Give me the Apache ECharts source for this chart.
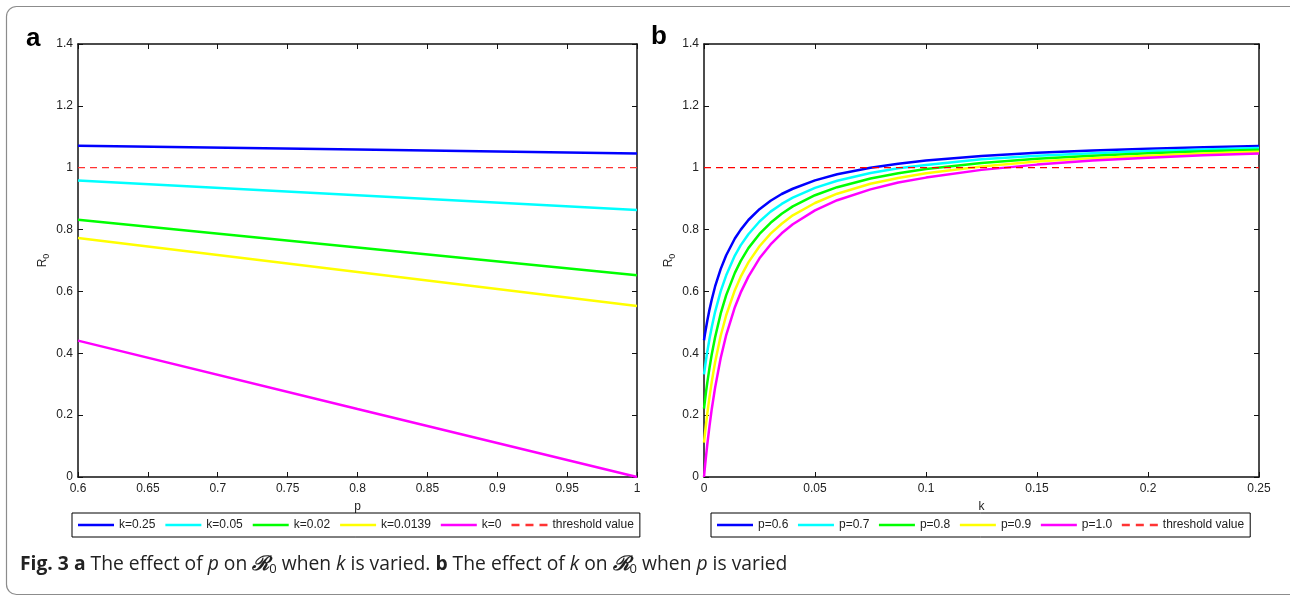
<!DOCTYPE html>
<html>
<head>
<meta charset="utf-8">
<script src="https://cdn.jsdelivr.net/npm/echarts@6/dist/echarts.min.js"></script>
<style>
  html, body { margin: 0; padding: 0; background: #fff; }
  #chart { width: 1290px; height: 596px; }
</style>
</head>
<body>
<div id="chart"></div>
<script>
// panel a: R0 against p for several k
const pValues = [0.6, 0.8, 1.0]
const aK025 = [1.071, 1.059, 1.046]
const aK005 = [0.959, 0.911, 0.863]
const aK002 = [0.832, 0.742, 0.652]
const aK00139 = [0.773, 0.663, 0.553]
const aK0 = [0.441, 0.220, 0]

// panel b: R0 against k for several p
const kValues = [0, 0.0005, 0.001, 0.0015, 0.0025, 0.0035, 0.005, 0.0075, 0.01, 0.0139, 0.0165, 0.02, 0.025, 0.03, 0.035, 0.04, 0.05, 0.06, 0.075, 0.0875, 0.1, 0.125, 0.15, 0.175, 0.2, 0.225, 0.25]
const bP06 = [0.442, 0.465, 0.486, 0.506, 0.542, 0.574, 0.616, 0.672, 0.717, 0.771, 0.799, 0.831, 0.866, 0.893, 0.915, 0.932, 0.959, 0.979, 1.000, 1.013, 1.023, 1.038, 1.048, 1.056, 1.061, 1.066, 1.070]
const bP07 = [0.332, 0.358, 0.383, 0.406, 0.448, 0.485, 0.534, 0.600, 0.652, 0.716, 0.749, 0.785, 0.826, 0.858, 0.883, 0.903, 0.935, 0.958, 0.983, 0.998, 1.009, 1.027, 1.039, 1.047, 1.054, 1.059, 1.064]
const bP08 = [0.221, 0.251, 0.280, 0.306, 0.354, 0.397, 0.452, 0.528, 0.588, 0.660, 0.698, 0.740, 0.786, 0.822, 0.851, 0.875, 0.911, 0.937, 0.965, 0.982, 0.996, 1.015, 1.029, 1.039, 1.047, 1.053, 1.058]
const bP09 = [0.111, 0.145, 0.176, 0.206, 0.260, 0.308, 0.371, 0.456, 0.523, 0.604, 0.647, 0.694, 0.746, 0.787, 0.819, 0.846, 0.886, 0.916, 0.948, 0.967, 0.982, 1.004, 1.020, 1.031, 1.039, 1.046, 1.052]
const bP10 = [0, 0.038, 0.073, 0.106, 0.166, 0.220, 0.289, 0.384, 0.459, 0.549, 0.596, 0.648, 0.707, 0.752, 0.788, 0.817, 0.862, 0.895, 0.930, 0.952, 0.968, 0.993, 1.010, 1.023, 1.032, 1.040, 1.046]

const threshold = 1
const aNames = ['k=0.25', 'k=0.05', 'k=0.02', 'k=0.0139', 'k=0']
const bNames = ['p=0.6', 'p=0.7', 'p=0.8', 'p=0.9', 'p=1.0']
const colors = ['#0000ff', '#00ffff', '#00ff00', '#ffff00', '#ff00ff']

const FONT = '"Liberation Sans", Arial, sans-serif'
const SOLID_ICON = 'path://M0,0H36V2.5H0Z'
const DASH_ICON = 'path://M0,0H8V2.5H0Z M14,0H22V2.5H14Z M28,0H36V2.5H28Z'

function pairs (xs, ys) {
  return xs.map((x, i) => [x, ys[i]])
}

function curve (name, xs, ys, color, idx) {
  return {
    name: name,
    type: 'line',
    xAxisIndex: idx,
    yAxisIndex: idx,
    data: pairs(xs, ys),
    symbol: 'none',
    lineStyle: { color: color, width: 2.5 },
    itemStyle: { color: color },
    z: 3
  }
}

function thresholdLine (xs, color, idx) {
  return {
    name: 'threshold value',
    type: 'line',
    xAxisIndex: idx,
    yAxisIndex: idx,
    data: xs.map(x => [x, threshold]),
    symbol: 'none',
    lineStyle: { color: color, width: 1.2, type: [7, 5] },
    itemStyle: { color: color },
    z: 4
  }
}

function xAx (grid, pos, min, max, interval, name) {
  return {
    type: 'value',
    gridIndex: grid,
    position: pos,
    min: min,
    max: max,
    interval: interval,
    name: name,
    nameLocation: 'middle',
    nameGap: 24,
    nameTextStyle: { fontFamily: FONT, fontSize: 12, color: '#222' },
    axisLine: { onZero: false, lineStyle: { color: '#111', width: 1.5 } },
    axisTick: { inside: true, length: 5, lineStyle: { color: '#111' } },
    axisLabel: { show: !!name, margin: 6, fontFamily: FONT, fontSize: 12, color: '#222' },
    splitLine: { show: false }
  }
}

function yAx (grid, pos, withName) {
  return {
    type: 'value',
    gridIndex: grid,
    position: pos,
    min: 0,
    max: 1.4,
    interval: 0.2,
    name: withName ? '{r|R}{s|0}' : '',
    nameLocation: 'middle',
    nameGap: 27,
    nameRotate: 90,
    nameTextStyle: {
      color: '#222',
      rich: {
        r: { fontFamily: FONT, fontSize: 12, color: '#222' },
        s: { fontFamily: FONT, fontSize: 9, color: '#222', padding: [8, 0, 0, 0] }
      }
    },
    axisLine: { onZero: false, lineStyle: { color: '#111', width: 1.5 } },
    axisTick: { inside: true, length: 5, lineStyle: { color: '#111' } },
    axisLabel: { show: withName, margin: 5, fontFamily: FONT, fontSize: 12, color: '#222' },
    splitLine: { show: false }
  }
}

function legendBox (left, names, gap) {
  const items = names.map(n => ({ name: n, icon: SOLID_ICON }))
  items.push({ name: 'threshold value', icon: DASH_ICON })
  return {
    left: left,
    top: 513,
    orient: 'horizontal',
    data: items,
    itemWidth: 36,
    itemHeight: 2.5,
    itemGap: gap,
    padding: [6, 6, 6, 6],
    borderColor: '#000',
    borderWidth: 1,
    borderRadius: 0,
    textStyle: { fontFamily: FONT, fontSize: 12, color: '#222' }
  }
}

const series = []
const aSets = [aK025, aK005, aK002, aK00139, aK0]
aSets.forEach((ys, i) => series.push(curve(aNames[i], pValues, ys, colors[i], 0)))
series.push(thresholdLine([0.6, 1.0], '#ff3333', 0))
const bSets = [bP06, bP07, bP08, bP09, bP10]
bSets.forEach((ys, i) => series.push(curve(bNames[i], kValues, ys, colors[i], 2)))
series.push(thresholdLine([0, 0.25], '#ff0000', 2))

const option = {
  animation: false,
  backgroundColor: '#fff',
  grid: [
    { left: 78, top: 44, width: 559, height: 433 },
    { left: 704, top: 44, width: 555, height: 433 }
  ],
  xAxis: [
    xAx(0, 'bottom', 0.6, 1, 0.05, 'p'),
    xAx(0, 'top', 0.6, 1, 0.05, ''),
    xAx(1, 'bottom', 0, 0.25, 0.05, 'k'),
    xAx(1, 'top', 0, 0.25, 0.05, '')
  ],
  yAxis: [
    yAx(0, 'left', true),
    yAx(0, 'right', false),
    yAx(1, 'left', true),
    yAx(1, 'right', false)
  ],
  legend: [
    legendBox(72, aNames, 10),
    legendBox(711, bNames, 9.6)
  ],
  series: series,
  graphic: [
    {
      type: 'rect',
      shape: { x: 6.5, y: 6.5, width: 1320, height: 588, r: 10 },
      style: { fill: 'none', stroke: '#8c8c8c', lineWidth: 1.2 },
      silent: true
    },
    {
      type: 'text',
      left: 26,
      top: 26,
      style: { text: 'a', font: 'bold 26px ' + FONT, fill: '#000' }
    },
    {
      type: 'text',
      left: 651,
      top: 24,
      style: { text: 'b', font: 'bold 26px ' + FONT, fill: '#000' }
    },
    {
      type: 'text',
      left: 20,
      top: 555,
      style: {
        text: '{b|Fig. 3 a} The effect of {i|p} on {r|ℛ}{s|0} when {i|k} is varied. {b|b} The effect of {i|k} on {r|ℛ}{s|0} when {i|p} is varied',
        fontFamily: '"Open Sans", sans-serif',
        fontSize: 19.3,
        fill: '#222',
        rich: {
          b: { fontFamily: '"Open Sans", sans-serif', fontSize: 19.3, fontWeight: 'bold', fill: '#222' },
          i: { fontFamily: '"Open Sans", sans-serif', fontSize: 19.3, fontStyle: 'italic', fill: '#222' },
          r: { fontFamily: '"DejaVu Serif", serif', fontSize: 20, fontWeight: 'bold', fontStyle: 'italic', fill: '#222' },
          s: { fontFamily: '"Open Sans", sans-serif', fontSize: 13, fill: '#222', padding: [9, 0, 0, 0] }
        }
      }
    }
  ]
}

const myChart = echarts.init(document.getElementById('chart'))
myChart.setOption(option)
</script>
</body>
</html>
